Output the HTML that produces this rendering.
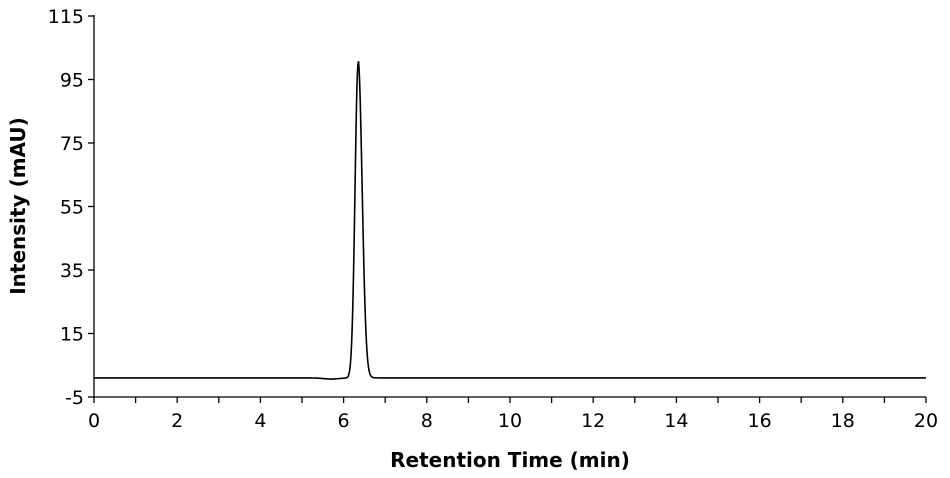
<!DOCTYPE html>
<html><head><meta charset="utf-8"><style>
body{margin:0;background:#fff}
svg{display:block}
text{font-family:"DejaVu Sans","Liberation Sans",sans-serif;fill:#000}
</style></head><body>
<svg id="s" width="950" height="478" viewBox="0 0 950 478">
<g stroke="#000" stroke-width="1.3" fill="none" id="ax">
<line x1="94" y1="15" x2="94" y2="397"/>
<line x1="94" y1="397" x2="926" y2="397"/>
</g>
<g font-size="19" text-anchor="end" id="yl"></g>
<g font-size="19" text-anchor="middle" id="xl"></g>
<text x="510" y="467" font-size="20" font-weight="bold" text-anchor="middle">Retention Time (min)</text>
<text transform="translate(25,206) rotate(-90)" font-size="20" font-weight="bold" text-anchor="middle">Intensity (mAU)</text>
<path id="p" stroke="#000" stroke-width="1.6" fill="none"/>
</svg>
<script>
var ns="http://www.w3.org/2000/svg",ax=document.getElementById('ax');
function X(t){return 94+t*41.6}
function Y(v){return 397-(v+5)*3.175}
function ln(a,b,c,d){var l=document.createElementNS(ns,'line');l.setAttribute('x1',a);l.setAttribute('y1',b);l.setAttribute('x2',c);l.setAttribute('y2',d);ax.appendChild(l)}
function tx(g,x,y,s){var t=document.createElementNS(ns,'text');t.setAttribute('x',x);t.setAttribute('y',y);t.textContent=s;document.getElementById(g).appendChild(t)}
for(var v=-5;v<=115;v+=20){var y=Y(v);ln(88,y,94,y);tx('yl',84,y+7,v)}
for(var t=0;t<=20;t++){var x=X(t);ln(x,397,x,403);if(t%2==0)tx('xl',x,427,t)}
var d="";
for(var px=94;px<=926;px+=0.5){var tm=(px-94)/41.6,v=1;
 var dt=tm-6.35,s=dt<0?0.075:0.095;v+=99*Math.exp(-dt*dt/(2*s*s));
 if(dt>0)v+=1.2*Math.exp(-dt/0.12);
 v-=0.35*Math.exp(-Math.pow((tm-5.7)/0.25,2));
 d+=(d?"L":"M")+px.toFixed(1)+","+Y(v).toFixed(2)}
document.getElementById('p').setAttribute('d',d);
</script>
</body></html>
